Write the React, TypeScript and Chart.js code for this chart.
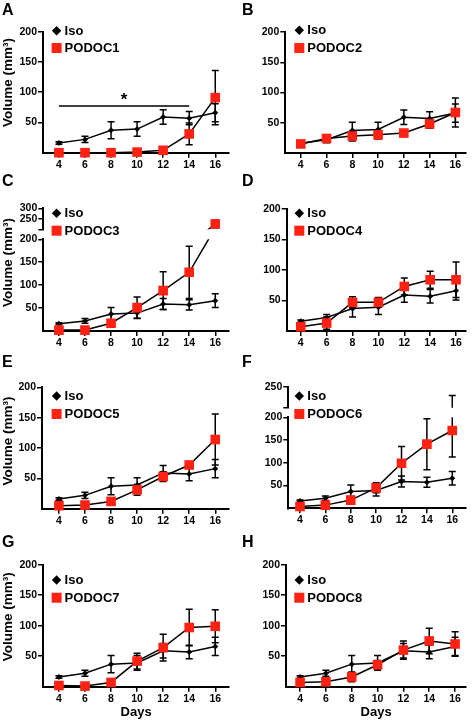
import React, { useEffect, useRef } from 'react';
import { Chart, registerables } from 'chart.js';

Chart.register(...registerables);

// ---------------- data ----------------
const days = [4, 6, 8, 10, 12, 14, 16];
const yTicks = [50, 100, 150, 200];
const upperTicksC = [250, 300];
const upperTicksF = [250];

const isoLabel = 'Iso';
const isoMean = [16, 22, 37, 39, 59, 57, 66];
const isoSem = [2, 5, 14, 12, 12, 11, 15];

const podoc1Mean = [0, 0, 0, 1, 4, 31, 91];
const podoc1Sem = [0, 0, 0, 1, 3, 18, 45];
const podoc2Mean = [15, 24, 28, 30, 33, 48, 67];
const podoc2Sem = [2, 5, 8, 7, 5, 7, 24];
const podoc3Mean = [2, 2, 17, 51, 88, 128, 225];
const podoc3Sem = [1, 1, 5, 23, 41, 57, 18];
const podoc4Mean = [7, 13, 47, 47, 73, 84, 84];
const podoc4Sem = [3, 10, 9, 8, 14, 14, 29];
const podoc5Mean = [5, 6, 12, 31, 53, 72, 114];
const podoc5Sem = [2, 2, 3, 9, 8, 5, 42];
const podoc6Mean = [4, 7, 18, 45, 99, 141, 171];
const podoc6Sem = [2, 3, 8, 11, 37, 56, 58];
const podoc7Mean = [2, 1, 7, 42, 64, 97, 99];
const podoc7Sem = [1, 1, 6, 13, 22, 30, 27];
const podoc8Mean = [7, 8, 16, 36, 60, 75, 70];
const podoc8Sem = [3, 5, 8, 7, 15, 21, 20];

const sigRange = [4, 14];
const sigLevel = 77;
const sigLabel = '*';

const yTitleText = 'Volume (mm³)';
const xTitleText = 'Days';

// ---------------- style / layout ----------------
const FONT = '"Liberation Sans", Arial, Helvetica, sans-serif';
const RED = 'rgb(255,34,18)';
const BLACK = '#000';
const PANEL_H = 180;

Chart.defaults.font.family = FONT;
Chart.defaults.color = BLACK;

const panels: any[] = [
  { letter: 'A', name: 'PODOC1', mean: podoc1Mean, sem: podoc1Sem, col: 0, row: 0,
    left: 43, right: 230, top: 31.7, bottom: 152.7, x4: 59, x16: 216, legendY: [30.7, 48], titleY: 82.5, sig: true },
  { letter: 'B', name: 'PODOC2', mean: podoc2Mean, sem: podoc2Sem, col: 1, row: 0,
    left: 49.3, right: 233, top: 32, bottom: 153, x4: 65, x16: 222, legendY: [30.3, 48] },
  { letter: 'C', name: 'PODOC3', mean: podoc3Mean, sem: podoc3Sem, col: 0, row: 1,
    left: 43.3, right: 230, top: 59.3, bottom: 151, x4: 59, x16: 216, legendY: [33.3, 50.7], titleY: 82.5,
    upper: { top: 28.3, bottom: 49.3, min: 200, max: 300, ticks: upperTicksC } },
  { letter: 'D', name: 'PODOC4', mean: podoc4Mean, sem: podoc4Sem, col: 1, row: 1,
    left: 50.7, right: 233, top: 29, bottom: 151, x4: 65, x16: 222.7, legendY: [33.3, 50.7] },
  { letter: 'E', name: 'PODOC5', mean: podoc5Mean, sem: podoc5Sem, col: 0, row: 2,
    left: 42, right: 230, top: 27.3, bottom: 148.7, x4: 59, x16: 216, legendY: [36, 54], titleY: 81 },
  { letter: 'F', name: 'PODOC6', mean: podoc6Mean, sem: podoc6Sem, col: 1, row: 2,
    left: 52.3, right: 235, top: 57.3, bottom: 148.3, x4: 64.3, x16: 220.7, legendY: [36, 54],
    upper: { top: 26.7, bottom: 47.7, min: 200, max: 250, ticks: upperTicksF } },
  { letter: 'G', name: 'PODOC7', mean: podoc7Mean, sem: podoc7Sem, col: 0, row: 3,
    left: 43, right: 230, top: 24.7, bottom: 146.7, x4: 59, x16: 216, legendY: [40, 57.7], titleY: 76.7, xTitle: true },
  { letter: 'H', name: 'PODOC8', mean: podoc8Mean, sem: podoc8Sem, col: 1, row: 3,
    left: 50, right: 233, top: 24.7, bottom: 146.7, x4: 64.3, x16: 221.7, legendY: [40, 57.7], xTitle: true },
];

const letterBaselines = [15, 186, 367, 547];

// ---------------- plugins ----------------
const errorBarPlugin = {
  id: 'errorBars',
  beforeDatasetsDraw(chart: any) {
    const { ctx, chartArea: ca, scales } = chart;
    const x = scales.x;
    const y = scales.y;
    const clip = chart.$errClip || { top: 30, bottom: 30 };
    ctx.save();
    ctx.beginPath();
    ctx.rect(ca.left - 30, ca.top - clip.top, ca.right - ca.left + 60, ca.bottom - ca.top + clip.top + clip.bottom);
    ctx.clip();
    ctx.strokeStyle = BLACK;
    ctx.lineWidth = 1.5;
    const cap = 3.5;
    chart.data.datasets.forEach((ds: any) => {
      const errs = ds.errors;
      if (!errs) return;
      ds.data.forEach((pt: any, i: number) => {
        const e = errs[i];
        if (!e) return;
        const px = x.getPixelForValue(pt.x);
        const yHi = y.getPixelForValue(pt.y + e);
        const yLo = y.getPixelForValue(pt.y - e);
        ctx.beginPath();
        ctx.moveTo(px, yHi);
        ctx.lineTo(px, yLo);
        ctx.moveTo(px - cap, yHi);
        ctx.lineTo(px + cap, yHi);
        ctx.moveTo(px - cap, yLo);
        ctx.lineTo(px + cap, yLo);
        ctx.stroke();
      });
    });
    ctx.restore();
  },
};

function makeDecor(p: any) {
  return {
    id: 'decor',
    afterDraw(chart: any) {
      const { ctx, scales } = chart;
      ctx.save();
      // legend
      const mx = p.col === 0 ? 56.6 : 63.3;
      const tx = mx + 8;
      const [ly1, ly2] = p.legendY;
      ctx.fillStyle = BLACK;
      ctx.beginPath();
      const d = 4.7;
      ctx.moveTo(mx - d, ly1);
      ctx.lineTo(mx, ly1 - d);
      ctx.lineTo(mx + d, ly1);
      ctx.lineTo(mx, ly1 + d);
      ctx.closePath();
      ctx.fill();
      ctx.fillStyle = RED;
      ctx.fillRect(mx - 5, ly2 - 5, 10, 10);
      ctx.fillStyle = BLACK;
      ctx.font = `bold 13px ${FONT}`;
      ctx.textAlign = 'left';
      ctx.textBaseline = 'middle';
      ctx.fillText(isoLabel, tx, ly1 + 0.5);
      ctx.fillText(p.name, tx, ly2 + 0.5);
      // y title
      if (p.titleY !== undefined) {
        ctx.save();
        ctx.translate(8, p.titleY);
        ctx.rotate(-Math.PI / 2);
        ctx.font = `bold 13.5px ${FONT}`;
        ctx.textAlign = 'center';
        ctx.textBaseline = 'middle';
        ctx.fillText(yTitleText, 0, 0);
        ctx.restore();
      }
      // significance bar
      if (p.sig) {
        const x1 = scales.x.getPixelForValue(sigRange[0]);
        const x2 = scales.x.getPixelForValue(sigRange[1]);
        const yy = scales.y.getPixelForValue(sigLevel);
        ctx.strokeStyle = BLACK;
        ctx.lineWidth = 1.5;
        ctx.beginPath();
        ctx.moveTo(x1, yy);
        ctx.lineTo(x2, yy);
        ctx.stroke();
        const xm = scales.x.getPixelForValue((sigRange[0] + sigRange[1]) / 2);
        ctx.font = `bold 17px ${FONT}`;
        ctx.textAlign = 'center';
        ctx.textBaseline = 'alphabetic';
        ctx.fillText(sigLabel, xm, yy - 1);
      }
      ctx.restore();
    },
  };
}

function buildConfig(p: any, isUpper: boolean) {
  const W = p.col === 0 ? 236 : 237;
  const first = days[0];
  const last = days[days.length - 1];
  const ppu = (p.x16 - p.x4) / (last - first);
  const xMin = first - (p.x4 - p.left) / ppu;
  const xMax = last + (p.right - p.x16) / ppu;
  const yMin = isUpper ? p.upper.min : 0;
  const yMax = isUpper ? p.upper.max : 200;
  const yt = isUpper ? [p.upper.min, ...p.upper.ticks] : yTicks;
  const top = isUpper ? p.upper.top : p.top;
  const bottom = isUpper ? p.upper.bottom : p.bottom;
  const broken = !!p.upper;

  let clip: any = false;
  if (broken && !isUpper) clip = { left: false, top: 0, right: false, bottom: false };
  if (isUpper) clip = { left: false, top: false, right: false, bottom: 0 };

  const tickFont = { size: 10.5, weight: 'bold' as const };

  const datasets: any[] = [
    {
      label: p.name,
      data: days.map((d, i) => ({ x: d, y: p.mean[i] })),
      errors: p.sem,
      borderColor: BLACK,
      borderWidth: 1.5,
      pointStyle: 'rect',
      pointRadius: 6.8,
      pointBackgroundColor: RED,
      pointBorderColor: RED,
      pointBorderWidth: 0,
      clip,
    },
    {
      label: isoLabel,
      data: days.map((d, i) => ({ x: d, y: isoMean[i] })),
      errors: isoSem,
      borderColor: BLACK,
      borderWidth: 1.5,
      pointStyle: 'rectRot',
      pointRadius: 3,
      pointBackgroundColor: BLACK,
      pointBorderColor: BLACK,
      pointBorderWidth: 0,
      clip,
    },
  ];

  const plugins: any[] = [errorBarPlugin];
  if (!isUpper) plugins.push(makeDecor(p));
  plugins.push({
    id: 'errClipSetter',
    beforeInit(chart: any) {
      chart.$errClip = isUpper ? { top: 30, bottom: 0 } : broken ? { top: 0, bottom: 30 } : { top: 30, bottom: 30 };
    },
  });

  return {
    type: 'line' as const,
    data: { datasets },
    plugins,
    options: {
      responsive: false,
      maintainAspectRatio: false,
      animation: false as const,
      devicePixelRatio: 1,
      events: [],
      layout: {
        padding: {
          left: 0,
          top,
          right: W - p.right,
          bottom: isUpper ? PANEL_H - bottom : 0,
        },
      },
      plugins: {
        legend: { display: false },
        title: { display: false },
        tooltip: { enabled: false },
      },
      scales: {
        x: {
          type: 'linear' as const,
          min: xMin,
          max: xMax,
          display: !isUpper,
          afterBuildTicks: (s: any) => {
            s.ticks = days.map((v) => ({ value: v }));
          },
          afterFit: (s: any) => {
            if (!isUpper) s.height = PANEL_H - bottom;
          },
          border: { display: true, color: BLACK, width: 2 },
          grid: {
            display: true,
            drawOnChartArea: false,
            drawTicks: true,
            tickLength: 5,
            color: BLACK,
            lineWidth: 1.5,
          },
          ticks: {
            color: BLACK,
            font: tickFont,
            padding: 1,
            maxRotation: 0,
            autoSkip: false,
            callback: (v: any) => String(v),
          },
          title: {
            display: !!p.xTitle && !isUpper,
            text: xTitleText,
            color: BLACK,
            font: { size: 13, weight: 'bold' as const },
            padding: { top: 0, bottom: 0 },
          },
        },
        y: {
          type: 'linear' as const,
          min: yMin,
          max: yMax,
          afterBuildTicks: (s: any) => {
            s.ticks = yt.map((v) => ({ value: v }));
          },
          afterFit: (s: any) => {
            s.width = p.left;
          },
          border: { display: true, color: BLACK, width: 2 },
          grid: {
            display: true,
            drawOnChartArea: false,
            drawTicks: true,
            tickLength: 5,
            color: BLACK,
            lineWidth: 1.5,
          },
          ticks: {
            color: BLACK,
            font: tickFont,
            padding: 1,
            autoSkip: false,
            callback: (v: any) => (isUpper && v === yMin ? '' : String(v)),
          },
        },
      },
    },
  };
}

// ---------------- components ----------------
function Panel({ p }: { p: any }) {
  const mainRef = useRef<HTMLCanvasElement | null>(null);
  const upperRef = useRef<HTMLCanvasElement | null>(null);
  const W = p.col === 0 ? 236 : 237;

  useEffect(() => {
    const charts: Chart[] = [];
    if (mainRef.current) charts.push(new Chart(mainRef.current, buildConfig(p, false) as any));
    if (p.upper && upperRef.current) charts.push(new Chart(upperRef.current, buildConfig(p, true) as any));
    return () => {
      charts.forEach((c) => c.destroy());
    };
  }, [p]);

  const cstyle: React.CSSProperties = { position: 'absolute', left: 0, top: 0, width: W, height: PANEL_H, display: 'block' };
  return (
    <div style={{ position: 'absolute', left: p.col * 236, top: p.row * PANEL_H, width: W, height: PANEL_H }}>
      <canvas ref={mainRef} width={W} height={PANEL_H} style={cstyle} />
      {p.upper ? <canvas ref={upperRef} width={W} height={PANEL_H} style={cstyle} /> : null}
    </div>
  );
}

export default function App() {
  return (
    <div style={{ position: 'absolute', left: 0, top: 0, width: 473, height: 720, background: '#fff', overflow: 'hidden' }}>
      {panels.map((p) => (
        <Panel key={p.letter} p={p} />
      ))}
      {panels.map((p) => (
        <div
          key={'L' + p.letter}
          style={{
            position: 'absolute',
            left: p.col === 0 ? 2 : 242,
            top: letterBaselines[p.row] - 13.5,
            font: `bold 16px ${FONT}`,
            lineHeight: '16px',
            color: BLACK,
          }}
        >
          {p.letter}
        </div>
      ))}
    </div>
  );
}
